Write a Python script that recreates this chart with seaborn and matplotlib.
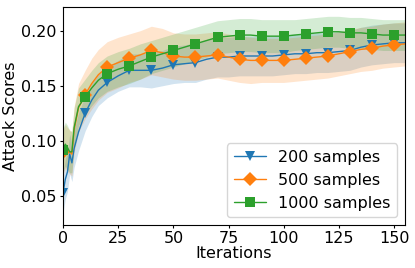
import numpy as np
import pandas as pd
import seaborn as sns
import matplotlib
matplotlib.use('Agg')
import matplotlib.pyplot as plt

# iterations where the curves were sampled
iterations = [0, 1, 2, 3, 4, 5, 7, 10, 13, 16, 20, 25, 30, 35, 40, 45, 50, 55, 60, 65, 70,
              75, 80, 85, 90, 95, 100, 105, 110, 115, 120, 125, 130, 135, 140, 145, 150, 155]

mean_200 = [0.053, 0.065, 0.072, 0.088, 0.080, 0.093, 0.108, 0.125, 0.137, 0.146, 0.153,
            0.159, 0.164, 0.164, 0.164, 0.166, 0.169, 0.170, 0.171, 0.174, 0.176, 0.176,
            0.177, 0.177, 0.177, 0.177, 0.178, 0.179, 0.179, 0.180, 0.180, 0.181, 0.182,
            0.185, 0.187, 0.188, 0.189, 0.189]
std_200 = [0.018, 0.018, 0.018, 0.018, 0.017, 0.017, 0.017, 0.016, 0.015, 0.014, 0.014,
           0.014, 0.015, 0.015, 0.016, 0.016, 0.017, 0.017, 0.018, 0.018, 0.018, 0.018,
           0.018, 0.018, 0.018, 0.018, 0.018, 0.018, 0.018, 0.018, 0.018, 0.018, 0.018,
           0.018, 0.018, 0.018, 0.018, 0.018]

mean_500 = [0.090, 0.095, 0.092, 0.090, 0.088, 0.110, 0.130, 0.142, 0.152, 0.160, 0.167,
            0.171, 0.175, 0.178, 0.182, 0.180, 0.177, 0.176, 0.176, 0.177, 0.178, 0.176,
            0.174, 0.173, 0.173, 0.173, 0.173, 0.174, 0.175, 0.176, 0.177, 0.179, 0.181,
            0.183, 0.184, 0.186, 0.187, 0.188]
std_500 = [0.020, 0.020, 0.020, 0.020, 0.020, 0.021, 0.022, 0.022, 0.023, 0.023, 0.023,
           0.023, 0.022, 0.022, 0.022, 0.022, 0.021, 0.021, 0.021, 0.021, 0.021, 0.021,
           0.021, 0.021, 0.020, 0.020, 0.020, 0.020, 0.020, 0.020, 0.020, 0.020, 0.020,
           0.020, 0.020, 0.020, 0.020, 0.020]

mean_1000 = [0.092, 0.097, 0.094, 0.090, 0.090, 0.112, 0.131, 0.140, 0.148, 0.155, 0.161,
             0.165, 0.168, 0.172, 0.176, 0.179, 0.182, 0.185, 0.188, 0.191, 0.194, 0.195,
             0.196, 0.196, 0.195, 0.195, 0.195, 0.196, 0.197, 0.198, 0.199, 0.199, 0.198,
             0.198, 0.197, 0.196, 0.196, 0.196]
std_1000 = [0.020, 0.020, 0.020, 0.019, 0.019, 0.018, 0.017, 0.016, 0.016, 0.016, 0.016,
            0.016, 0.016, 0.016, 0.015, 0.015, 0.015, 0.015, 0.015, 0.015, 0.015, 0.015,
            0.015, 0.015, 0.015, 0.015, 0.015, 0.014, 0.014, 0.014, 0.014, 0.014, 0.014,
            0.014, 0.014, 0.014, 0.014, 0.014]

labels = ['200 samples', '500 samples', '1000 samples']
markers = ['v', 'D', 's']

sns.set_style('ticks', {'axes.edgecolor': 'black', 'text.color': 'black',
                        'axes.labelcolor': 'black', 'xtick.color': 'black',
                        'ytick.color': 'black'})
plt.rcParams['font.family'] = ['DejaVu Sans']

fig, ax = plt.subplots(figsize=(4.15, 2.68), dpi=100)
colors = sns.color_palette('tab10', 3)

# markers only on multiples of 10
mark_idx = [i for i, it in enumerate(iterations) if it % 10 == 0]

series = [(mean_200, std_200), (mean_500, std_500), (mean_1000, std_1000)]
for (m, s), lab, mk, c in zip(series, labels, markers, colors):
    m = np.array(m)
    s = np.array(s)
    df = pd.DataFrame({'Iterations': iterations, 'Attack Scores': m})
    sns.lineplot(data=df, x='Iterations', y='Attack Scores', ax=ax, color=c,
                 marker=mk, markevery=mark_idx, markersize=7, markeredgewidth=0,
                 linewidth=1.0, label=lab)
    ax.fill_between(iterations, m - s, m + s, color=c, alpha=0.2, linewidth=0)

ax.set_xlim(0, 155)
ax.set_ylim(0.0235, 0.2215)
ax.set_xticks([0, 25, 50, 75, 100, 125, 150])
ax.set_yticks([0.05, 0.10, 0.15, 0.20])
ax.tick_params(labelsize=11.5, length=2.5, pad=2)
ax.set_xlabel('Iterations', fontsize=11.5, labelpad=0)
ax.set_ylabel('Attack Scores', fontsize=11.5, labelpad=2)
ax.legend(loc='lower right', fontsize=11.5)

fig.subplots_adjust(left=0.152, right=0.976, top=0.974, bottom=0.16)
plt.savefig('out.png', dpi=100)
